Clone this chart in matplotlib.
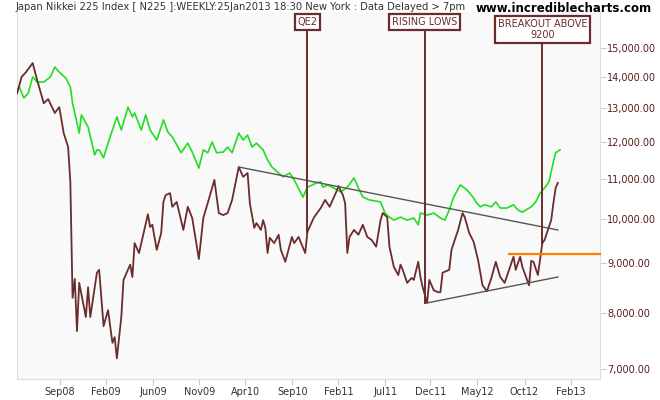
import matplotlib
matplotlib.use("Agg")
import matplotlib.pyplot as plt
from matplotlib.ticker import FixedLocator, NullLocator

# weekly index (weeks since late Apr 2008)
nk_week = [0,2,4,7,9,12,14,17,19,21,23,24,25,26,27,28,31,32,33,36,37,39,41,43,44,45,47,48,51,52,53,55,59,60,61,63,65,66,67,69,70,72,75,77,79,82,84,86,89,91,93,95,97,100,102,104,105,107,108,110,111,112,113,114,116,118,119,121,124,125,127,130,131,134,137,139,141,144,145,147,148,149,150,152,154,156,158,160,162,164,165,167,168,170,172,173,174,176,178,179,181,182,183,185,186,188,190,191,192,195,196,199,201,202,204,206,208,210,212,214,216,218,220,222,224,225,227,228,231,232,233,235,237,238,240,241,242,243,244]
nk_val = [13480,14010,14170,14480,13910,13160,13290,12860,13040,12260,11860,10920,8290,8670,7660,8590,7920,8500,7920,8800,8860,7750,8050,7450,7550,7180,7920,8650,8970,8710,9440,9220,10110,9810,9860,9290,9670,10410,10580,10630,10290,10410,9740,10290,10020,9090,10020,10380,10970,10140,10090,10140,10460,11310,11050,11150,10380,9790,9900,9740,9970,9790,9220,9560,9440,9630,9290,9030,9580,9440,9580,9220,9700,10040,10260,10460,10290,10660,10810,10580,10380,9220,9580,9740,9630,9860,9580,9510,9360,9970,10140,10040,9360,8920,8750,8970,8860,8590,8690,8650,9030,8710,8500,8190,8650,8440,8400,8400,8800,8860,9290,9740,10140,10040,9670,9470,9070,8540,8420,8690,9030,8710,8590,8860,9140,8860,9140,8920,8540,9050,9030,8750,9440,9510,9810,9970,10380,10760,10890]

cmp_week = [0,1,3,5,7,9,12,15,17,19,22,24,25,28,29,32,35,36,37,39,41,45,47,50,52,53,56,58,60,63,65,66,68,70,74,77,79,82,84,86,88,90,93,95,97,100,102,104,106,108,111,113,115,118,120,123,125,129,131,135,137,138,140,143,146,149,152,154,156,159,164,166,168,170,173,176,179,181,182,185,188,191,193,195,197,200,203,206,207,209,211,214,216,218,221,224,226,228,232,234,236,238,240,242,243,245]
cmp_val = [13580,13680,13330,13480,14010,13840,13840,14010,14340,14170,13970,13680,13160,12260,12800,12440,11640,11780,11780,11560,11970,12740,12350,13040,12740,12860,12350,12800,12350,12060,12440,12650,12290,12150,11700,11970,11720,11280,11780,11700,12000,11700,11720,11860,11700,12260,12060,12200,11860,11970,11780,11500,11310,11150,11050,11150,10970,10530,10780,10890,10920,10780,10840,10760,10660,10780,11020,10760,10530,10460,10410,10140,10040,9970,10040,9970,10020,9860,10140,10090,10140,10020,9970,10210,10530,10840,10710,10510,10410,10290,10340,10290,10410,10260,10260,10340,10210,10160,10290,10410,10630,10760,10920,11450,11700,11780]

tick_weeks = [19.4,40.2,61.4,82.2,103,124.2,145,166.2,186.5,207.7,229,249.8]
tick_labels = ["Sep08","Feb09","Jun09","Nov09","Apr10","Sep10","Feb11","Jul11","Dec11","May12","Oct12","Feb13"]
y_ticks = [7000,8000,9000,10000,11000,12000,13000,14000,15000]

upper_trend_w = [100,244]; upper_trend_v = [11310,9740]
lower_trend_w = [185,244]; lower_trend_v = [8190,8710]
breakout_level = 9200; breakout_start = 222
notes = [("QE2",131,9700,15770),("RISING LOWS",184,8190,15770),("BREAKOUT ABOVE\n9200",237,9440,15300)]

BROWN = "#6b2c2c"
fig = plt.figure(figsize=(6.6,4.0), dpi=100)
fig.patch.set_facecolor("white")
ax = fig.add_axes([0.026,0.0525,0.883,0.9175])
ax.set_facecolor("#f9f9f9")
ax.set_yscale("log")
ax.set_xlim(0,263)
ax.set_ylim(6836,16345)

ax.plot(cmp_week, cmp_val, color="#22dd22", lw=1.2, zorder=3)
ax.plot(nk_week, nk_val, color=BROWN, lw=1.3, zorder=4)
ax.plot(upper_trend_w, upper_trend_v, color="#555555", lw=1.0, zorder=5)
ax.plot(lower_trend_w, lower_trend_v, color="#555555", lw=1.0, zorder=5)
ax.plot([breakout_start,263],[breakout_level]*2, color="#ff7f00", lw=1.6, zorder=5, clip_on=False)

for txt,w,lo,hi in notes:
    ax.plot([w,w],[lo,hi], color=BROWN, lw=1.4, zorder=6)
    ax.text(w, hi, txt, ha="center", va="bottom", fontsize=7, color=BROWN, zorder=7,
            linespacing=1.1,
            bbox=dict(boxstyle="square,pad=0.3", fc="white", ec=BROWN, lw=1.6))

ax.yaxis.tick_right()
ax.yaxis.set_major_locator(FixedLocator(y_ticks))
ax.yaxis.set_minor_locator(NullLocator())
ax.set_yticklabels([f"{v:,.2f}" for v in y_ticks])
ax.xaxis.set_major_locator(FixedLocator(tick_weeks))
ax.xaxis.set_minor_locator(NullLocator())
ax.set_xticklabels(tick_labels)
ax.tick_params(axis="y", colors="#cccccc", labelcolor="#5a1a1a", labelsize=7, length=4, pad=1)
ax.tick_params(axis="x", colors="#cccccc", labelcolor="#333333", labelsize=7, length=4, pad=2)
ax.spines["top"].set_visible(False)
for s in ["left","bottom","right"]:
    ax.spines[s].set_color("#dddddd")

fig.text(0.024,0.995,"Japan Nikkei 225 Index [ N225 ]:WEEKLY:25Jan2013 18:30 New York : Data Delayed > 7pm",
         fontsize=7.2, color="#333333", va="top")
fig.text(0.988,0.995,"www.incrediblecharts.com", fontsize=8.5, fontweight="bold", color="black", va="top", ha="right")
fig.savefig("out.png", dpi=100)
